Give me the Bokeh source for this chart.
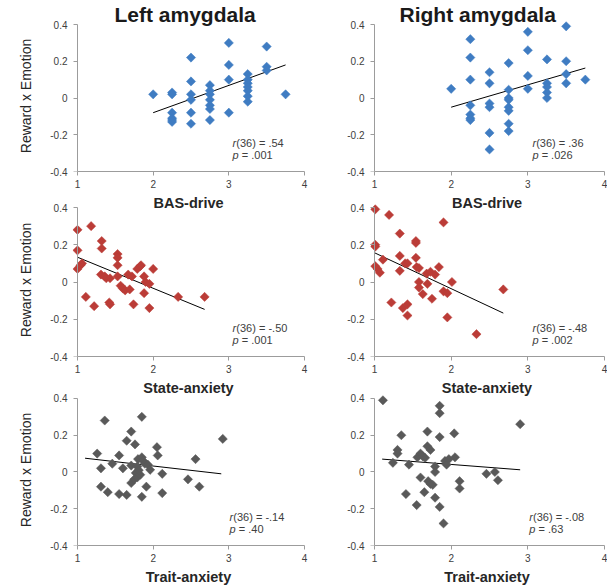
import numpy as np
from bokeh.plotting import figure
from bokeh.models import Range1d, FixedTicker, CustomJSTickFormatter, Label, LinearAxis, Title
from bokeh.layouts import row, column
from bokeh.embed import file_html
from bokeh.resources import INLINE

# ---------------- data ----------------
titles = ["Left amygdala", "Right amygdala"]
x_labels = ["BAS-drive", "State-anxiety", "Trait-anxiety"]
y_label = "Reward x Emotion"
x_ticks = [1, 2, 3, 4]
y_ticks = [-0.4, -0.2, 0, 0.2, 0.4]

# BAS-drive, left amygdala
bas_left_x = [2.0, 2.25, 2.25, 2.25, 2.25, 2.25, 2.25, 2.5, 2.5, 2.5, 2.5, 2.5, 2.5,
              2.75, 2.75, 2.75, 2.75, 2.75, 2.75, 2.75, 3.0, 3.0, 3.0, 3.0,
              3.25, 3.25, 3.25, 3.25, 3.25, 3.25, 3.25, 3.5, 3.5, 3.5, 3.75]
bas_left_y = [0.02, 0.03, 0.02, -0.08, -0.11, -0.12, -0.13, 0.22, 0.09, 0.02, -0.01, -0.08, -0.14,
              0.07, 0.04, 0.02, -0.01, -0.04, -0.06, -0.12, 0.30, 0.18, 0.10, -0.08,
              0.13, 0.10, 0.08, 0.06, 0.04, 0.01, -0.02, 0.28, 0.17, 0.15, 0.02]
bas_left_fit_x = [2.0, 3.75]
bas_left_fit_y = [-0.08, 0.18]

# BAS-drive, right amygdala
bas_right_x = [2.0, 2.25, 2.25, 2.25, 2.25, 2.25, 2.25, 2.25, 2.5, 2.5, 2.5, 2.5, 2.5, 2.5,
               2.75, 2.75, 2.75, 2.75, 2.75, 2.75, 2.75, 2.75, 3.0, 3.0, 3.0, 3.0,
               3.25, 3.25, 3.25, 3.25, 3.25, 3.5, 3.5, 3.5, 3.5, 3.75]
bas_right_y = [0.05, 0.32, 0.22, 0.10, -0.04, -0.09, -0.11, -0.12, 0.14, 0.08, -0.03, -0.05, -0.19, -0.28,
               0.19, 0.045, 0.0, -0.01, -0.05, -0.07, -0.14, -0.18, 0.36, 0.26, 0.12, 0.05,
               0.21, 0.08, 0.06, 0.03, 0.0, 0.39, 0.20, 0.13, 0.08, 0.10]
bas_right_fit_x = [2.0, 3.75]
bas_right_fit_y = [-0.05, 0.163]

# State-anxiety, left amygdala
state_left_x = [1.0, 1.0, 1.0, 1.04, 1.06, 1.11, 1.18, 1.22, 1.32, 1.32, 1.31, 1.36, 1.38,
                1.42, 1.43, 1.43, 1.53, 1.53, 1.53, 1.53, 1.57, 1.60, 1.63, 1.67, 1.69,
                1.72, 1.74, 1.79, 1.83, 1.84, 1.88, 1.88, 1.90, 1.95, 1.95, 2.0, 2.33, 2.68]
state_left_y = [0.28, 0.17, 0.07, 0.09, 0.10, -0.08, 0.30, -0.13, 0.22, 0.18, 0.04, 0.03, 0.02,
                -0.11, -0.12, 0.02, 0.15, 0.13, 0.09, 0.03, -0.02, -0.035, -0.045, 0.04, -0.04,
                0.03, -0.12, 0.07, 0.085, 0.09, 0.03, -0.06, 0.0, -0.01, -0.14, 0.07, -0.08, -0.08]
state_left_fit_x = [1.0, 2.68]
state_left_fit_y = [0.133, -0.147]

# State-anxiety, right amygdala
state_right_x = [1.01, 1.01, 1.01, 1.01, 1.04, 1.07, 1.11, 1.19, 1.22, 1.33, 1.33, 1.33, 1.37,
                 1.40, 1.43, 1.43, 1.43, 1.54, 1.54, 1.54, 1.55, 1.58, 1.58, 1.58, 1.63,
                 1.68, 1.69, 1.73, 1.75, 1.79, 1.84, 1.90, 1.90, 1.95, 1.95, 2.01, 2.33, 2.68]
state_right_y = [0.39, 0.20, 0.19, 0.085, 0.07, 0.05, 0.12, 0.36, -0.11, 0.26, 0.14, 0.06, -0.14,
                 0.10, 0.10, -0.12, -0.18, 0.22, 0.21, 0.13, 0.08, 0.075, 0.0, -0.03, -0.065,
                 0.045, -0.01, 0.055, -0.09, 0.04, 0.08, 0.32, -0.05, -0.06, -0.19, 0.0, -0.28, -0.04]
state_right_fit_x = [1.0, 2.68]
state_right_fit_y = [0.157, -0.167]

# Trait-anxiety, left amygdala
trait_left_x = [1.26, 1.31, 1.31, 1.36, 1.40, 1.46, 1.55, 1.55, 1.60, 1.65, 1.65, 1.71, 1.71,
                1.71, 1.75, 1.76, 1.77, 1.79, 1.80, 1.83, 1.85, 1.85, 1.85, 1.87, 1.89,
                1.91, 1.93, 1.96, 2.05, 2.06, 2.12, 2.12, 2.46, 2.56, 2.61, 2.92, 1.79, 1.81]
trait_left_y = [0.10, 0.02, -0.08, 0.28, -0.11, 0.045, 0.09, -0.12, 0.02, 0.17, -0.125, 0.22, 0.035,
                -0.06, -0.04, 0.15, -0.005, -0.03, 0.07, -0.015, 0.30, 0.08, -0.135, 0.06, 0.045,
                -0.08, 0.04, 0.012, 0.135, 0.09, -0.01, -0.115, -0.04, 0.07, -0.08, 0.18, 0.03, 0.01]
trait_left_fit_x = [1.1, 2.9]
trait_left_fit_y = [0.075, -0.01]

# Trait-anxiety, right amygdala
trait_right_x = [1.11, 1.24, 1.30, 1.30, 1.35, 1.41, 1.45, 1.55, 1.56, 1.60, 1.60, 1.63, 1.65,
                 1.66, 1.69, 1.69, 1.70, 1.73, 1.73, 1.76, 1.79, 1.79, 1.79, 1.85, 1.85,
                 1.85, 1.85, 1.90, 1.92, 1.94, 1.97, 2.04, 2.05, 2.11, 2.11, 2.46, 2.57, 2.61, 2.90]
trait_right_y = [0.39, 0.05, 0.12, 0.10, 0.20, -0.12, 0.04, -0.18, 0.08, 0.10, -0.03, 0.085, -0.11,
                 0.077, 0.22, 0.14, -0.05, 0.12, -0.065, -0.07, 0.03, 0.0, -0.14, 0.36, 0.32,
                 0.19, -0.19, -0.28, 0.06, 0.04, 0.07, 0.21, 0.08, -0.05, -0.09, -0.01, 0.0, -0.045, 0.26]
trait_right_fit_x = [1.1, 2.9]
trait_right_fit_y = [0.07, 0.012]

r_texts = [["(36) = .54", "(36) = .36"],
           ["(36) = -.50", "(36) = -.48"],
           ["(36) = -.14", "(36) = -.08"]]
p_texts = [["= .001", "= .026"],
           ["= .001", "= .002"],
           ["= .40", "= .63"]]

# ---------------- styling ----------------
FONT = "Liberation Sans"
COLORS = ["#3f7cc2", "#bb3c37", "#595959"]
AXIS_COLOR = "#9c9c9c"
TICK_TEXT = "#404040"
LABEL_TEXT = "#262626"

ROWS = [dict(height=215, bt=20, bb=44, margin=0),
        dict(height=203, bt=6, bb=44, margin=-18),
        dict(height=199, bt=6, bb=41, margin=-12)]
COLS = [dict(width=310, bl=72, br=6, title_offset=42, note_x=3.05),
        dict(width=297, bl=59, br=3, title_offset=30, note_x=3.06)]
PAD_LEFT = 5   # px between frame edge and x = 1
PAD_TOP = 4    # px between frame top and y = 0.4

data = [
    [(bas_left_x, bas_left_y, bas_left_fit_x, bas_left_fit_y),
     (bas_right_x, bas_right_y, bas_right_fit_x, bas_right_fit_y)],
    [(state_left_x, state_left_y, state_left_fit_x, state_left_fit_y),
     (state_right_x, state_right_y, state_right_fit_x, state_right_fit_y)],
    [(trait_left_x, trait_left_y, trait_left_fit_x, trait_left_fit_y),
     (trait_right_x, trait_right_y, trait_right_fit_x, trait_right_fit_y)],
]


def style_axis(ax):
    ax.axis_line_color = AXIS_COLOR
    ax.major_tick_line_color = AXIS_COLOR
    ax.major_tick_out = 4
    ax.major_tick_in = 0
    ax.minor_tick_line_color = None
    ax.major_label_text_font = FONT
    ax.major_label_text_font_size = "10px"
    ax.major_label_text_color = TICK_TEXT


def make_panel(ri, ci):
    rc, cc = ROWS[ri], COLS[ci]
    xs, ys, fx, fy = data[ri][ci]
    fw = cc["width"] - cc["bl"] - cc["br"]
    fh = rc["height"] - rc["bt"] - rc["bb"]
    x0 = 1 - PAD_LEFT * 3.0 / (fw - PAD_LEFT)
    y1 = 0.4 + PAD_TOP * 0.8 / (fh - PAD_TOP)
    p = figure(width=cc["width"], height=rc["height"], output_backend="svg",
               toolbar_location=None, x_range=Range1d(x0, 4.0), y_range=Range1d(-0.4, y1),
               min_border_left=cc["bl"], min_border_right=cc["br"],
               min_border_top=rc["bt"], min_border_bottom=rc["bb"])
    p.background_fill_color = None
    p.border_fill_color = None
    p.outline_line_color = None
    p.grid.visible = False

    if ri == 0:
        p.title = Title(text=titles[ci], align="left", offset=cc["title_offset"],
                        standoff=-10, vertical_align="bottom", text_baseline="alphabetic",
                        text_font=FONT, text_font_style="bold", text_font_size="21px",
                        text_color="#1a1a1a")

    # x axis along y = -0.4
    xa = p.xaxis[0]
    style_axis(xa)
    xa.ticker = FixedTicker(ticks=x_ticks)
    xa.formatter = CustomJSTickFormatter(code="return tick.toFixed(0);")
    xa.bounds = (1, 4)
    xa.major_label_standoff = 4
    xa.axis_label = x_labels[ri]
    xa.axis_label_text_font = FONT
    xa.axis_label_text_font_style = "bold"
    xa.axis_label_text_font_size = "14.5px"
    xa.axis_label_text_color = LABEL_TEXT
    xa.axis_label_standoff = 4

    # y axis: labels on the main axis, line and ticks on an axis fixed at x = 1
    ya = p.yaxis[0]
    style_axis(ya)
    ya.ticker = FixedTicker(ticks=y_ticks)
    ya.formatter = CustomJSTickFormatter(code="return Math.abs(tick) < 1e-9 ? '0' : tick.toFixed(1);")
    ya.axis_line_color = None
    ya.major_tick_line_color = None
    ya.major_tick_out = 0
    ya.major_label_standoff = 5
    if ci == 0:
        ya.axis_label = y_label
        ya.axis_label_text_font = FONT
        ya.axis_label_text_font_style = "normal"
        ya.axis_label_text_font_size = "14px"
        ya.axis_label_text_color = LABEL_TEXT
        ya.axis_label_standoff = 13

    yline = LinearAxis(fixed_location=1, ticker=FixedTicker(ticks=y_ticks),
                       formatter=CustomJSTickFormatter(code="return '';"),
                       bounds=(-0.4, 0.4))
    style_axis(yline)
    yline.major_label_standoff = 0
    p.add_layout(yline, "left")

    p.line(fx, fy, line_color="black", line_width=1)
    col = COLORS[ri]
    p.scatter(xs, ys, marker="square", angle=np.pi / 4, size=6.5,
              fill_color=col, line_color=col, line_width=0.5)

    nx = cc["note_x"] - (0.04 if ri == 2 else 0.0)
    common = dict(text_font=FONT, text_font_size="11px", text_color=TICK_TEXT,
                  text_baseline="middle", text_align="left")
    p.add_layout(Label(x=nx, y=-0.245, text="r", text_font_style="italic", **common))
    p.add_layout(Label(x=nx, y=-0.245, x_offset=3.7, text=r_texts[ri][ci], **common))
    p.add_layout(Label(x=nx, y=-0.31, text="p", text_font_style="italic", **common))
    p.add_layout(Label(x=nx, y=-0.31, x_offset=9.2, text=p_texts[ri][ci], **common))
    return p


rows = []
for ri in range(3):
    figs = [make_panel(ri, ci) for ci in range(2)]
    rows.append(row(*figs, margin=(ROWS[ri]["margin"], 0, 0, 0)))

layout = column(*rows)
open("out.html", "w").write(file_html(layout, INLINE))
